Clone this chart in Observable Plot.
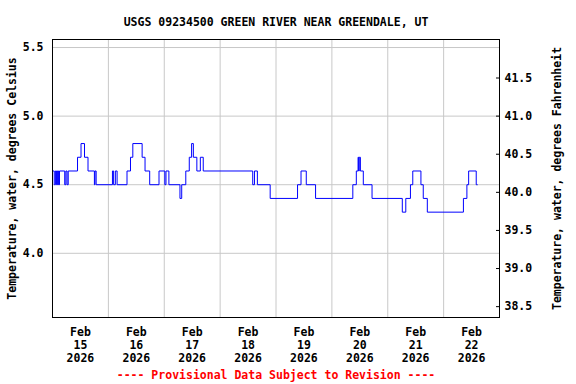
<!DOCTYPE html>
<html><head><meta charset="utf-8">
<script src="https://cdn.jsdelivr.net/npm/d3@7"></script>
<script src="https://cdn.jsdelivr.net/npm/@observablehq/plot@0.6"></script>
<style>body{margin:0;background:#fff} svg{display:block}</style>
</head><body><div id="chart"></div>
<script>
const title = "USGS 09234500 GREEN RIVER NEAR GREENDALE, UT";
const yLabelLeft = "Temperature, water, degrees Celsius";
const yLabelRight = "Temperature, water, degrees Fahrenheit";
const footer = "---- Provisional Data Subject to Revision ----";

// change points of the water temperature record (UTC-naive times), degrees C
const times = [
  "2026-02-15T00:00","2026-02-15T00:45","2026-02-15T01:15","2026-02-15T01:45","2026-02-15T02:00",
  "2026-02-15T02:15","2026-02-15T02:30","2026-02-15T02:45","2026-02-15T03:00","2026-02-15T05:15",
  "2026-02-15T05:45","2026-02-15T06:15","2026-02-15T06:45","2026-02-15T10:45","2026-02-15T12:15",
  "2026-02-15T13:45","2026-02-15T15:15","2026-02-15T18:00","2026-02-15T18:15","2026-02-15T18:45",
  "2026-02-16T01:45","2026-02-16T02:15","2026-02-16T03:00","2026-02-16T03:45","2026-02-16T08:00",
  "2026-02-16T09:30","2026-02-16T10:30","2026-02-16T14:30","2026-02-16T15:45","2026-02-16T17:45",
  "2026-02-16T21:45","2026-02-17T00:15","2026-02-17T00:45","2026-02-17T02:00","2026-02-17T06:45",
  "2026-02-17T07:30","2026-02-17T09:15","2026-02-17T10:45","2026-02-17T11:45","2026-02-17T12:30",
  "2026-02-17T14:00","2026-02-17T15:30","2026-02-17T16:45","2026-02-18T14:00","2026-02-18T14:45",
  "2026-02-18T16:00","2026-02-18T21:30","2026-02-19T09:15","2026-02-19T10:45","2026-02-19T13:00",
  "2026-02-19T17:00","2026-02-20T09:00","2026-02-20T10:30","2026-02-20T11:15","2026-02-20T11:30",
  "2026-02-20T11:45","2026-02-20T12:15","2026-02-20T13:30","2026-02-20T17:15","2026-02-21T06:15",
  "2026-02-21T07:45","2026-02-21T09:45","2026-02-21T10:45","2026-02-21T14:15","2026-02-21T15:15",
  "2026-02-21T17:00","2026-02-22T08:30","2026-02-22T10:00","2026-02-22T10:45","2026-02-22T14:00",
  "2026-02-22T14:30"
];
const tempC = [
  4.6,4.5,4.6,4.5,4.6,
  4.5,4.6,4.5,4.6,4.5,
  4.6,4.5,4.6,4.7,4.8,
  4.7,4.6,4.5,4.6,4.5,
  4.6,4.5,4.6,4.5,4.6,
  4.7,4.8,4.7,4.6,4.5,
  4.6,4.5,4.6,4.5,4.4,
  4.5,4.6,4.7,4.8,4.7,
  4.6,4.7,4.6,4.5,4.6,
  4.5,4.4,4.5,4.6,4.5,
  4.4,4.5,4.6,4.7,4.6,
  4.7,4.6,4.5,4.4,4.3,
  4.4,4.5,4.6,4.5,4.4,
  4.3,4.4,4.5,4.6,4.5,
  4.5
];

const dayLabels = ["2026-02-15","2026-02-16","2026-02-17","2026-02-18","2026-02-19","2026-02-20","2026-02-21","2026-02-22"];
const dayGrid = ["2026-02-16","2026-02-17","2026-02-18","2026-02-19","2026-02-20","2026-02-21","2026-02-22"];
const celsiusTicks = [4.0, 4.5, 5.0, 5.5];
const fahrenheitTicks = [38.5, 39.0, 39.5, 40.0, 40.5, 41.0, 41.5];
const xStart = "2026-02-15T00:00", xEnd = "2026-02-23T00:00";
const yMin = 3.532, yMax = 5.5585;

const data = times.map((t, i) => ({date: new Date(t + "Z"), value: tempC[i]}));
const font = "'DejaVu Sans Mono', monospace";

const chart = Plot.plot({
  width: 576, height: 384,
  marginLeft: 52, marginRight: 77, marginTop: 39, marginBottom: 67,
  style: {fontFamily: font, fontSize: "11.5px", fontWeight: "bold", color: "#000", background: "#fff"},
  x: {type: "utc", domain: [new Date(xStart + "Z"), new Date(xEnd + "Z")]},
  y: {domain: [yMin, yMax]},
  marks: [
    Plot.gridX(dayGrid.map(d => new Date(d + "T00:00Z")), {stroke: "#c8c8c8", strokeOpacity: 1}),
    Plot.gridY(celsiusTicks, {stroke: "#c8c8c8", strokeOpacity: 1}),
    Plot.line(data, {x: "date", y: "value", curve: "step-after", stroke: "#0000ff", strokeWidth: 1}),
    Plot.frame({stroke: "#000", strokeWidth: 1}),
    Plot.axisY(celsiusTicks, {anchor: "left", tickSize: 0, tickPadding: 9, tickFormat: d => d.toFixed(1), label: null}),
    Plot.axisY(fahrenheitTicks.map(f => (f - 32) / 1.8), {anchor: "right", tickSize: 4, insetRight: 4, tickPadding: 5,
      tickFormat: c => (c * 1.8 + 32).toFixed(1), label: null}),
    Plot.axisX(dayLabels.map(d => new Date(d + "T12:00Z")), {anchor: "bottom", tickSize: 0, tickPadding: 9,
      tickFormat: d3.utcFormat("%b\n%d\n%Y"), lineHeight: 1.15, label: null}),
    Plot.text([title], {frameAnchor: "top", dy: -22, fill: "#000"}),
    Plot.text([footer], {frameAnchor: "bottom", dy: 61, fill: "#ff0000"}),
    Plot.text([yLabelLeft], {frameAnchor: "left", dx: -40, rotate: -90, textAnchor: "middle", fill: "#000"}),
    Plot.text([yLabelRight], {frameAnchor: "right", dx: 58, rotate: -90, textAnchor: "middle", fill: "#000"})
  ]
});
document.getElementById("chart").appendChild(chart);
</script>
</body></html>
